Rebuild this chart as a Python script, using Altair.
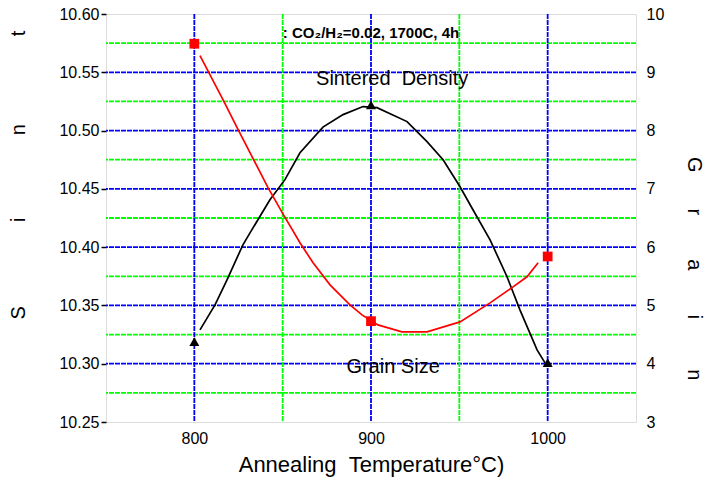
import altair as alt
import pandas as pd

# ---- data ----
temps = [800, 900, 1000]
density_pts = [10.319, 10.522, 10.301]
grain_pts = [9.49, 4.73, 5.84]

dens_curve_x = [803.2, 811.7, 818.5, 827.5, 832.6, 836.0, 842.8, 851.3, 859.8, 872.8, 884.2,
                895.5, 903.4, 920.4, 931.7, 940.8, 950.4, 957.7, 967.4, 977.0, 984.3, 994.0, 998.5]
dens_curve_y = [10.329, 10.3505, 10.372, 10.402, 10.415, 10.4235, 10.4407, 10.4579, 10.481, 10.503, 10.5137,
                10.5206, 10.5197, 10.5077, 10.4905, 10.475, 10.4518, 10.4321, 10.4063, 10.3746, 10.3462, 10.3119, 10.3007]

grain_curve_x = [803.2, 816.2, 824.2, 831.5, 841.7, 850.0, 859.8, 867.2, 876.8, 888.1, 894.9,
                 903.9, 917.5, 931.7, 950.4, 967.4, 980.4, 988.3, 994.6]
grain_curve_y = [9.287, 8.531, 8.05, 7.621, 7.02, 6.58, 6.075, 5.731, 5.353, 5.01, 4.838,
                 4.666, 4.546, 4.546, 4.718, 5.044, 5.319, 5.491, 5.731]

dens_major = [10.30, 10.35, 10.40, 10.45, 10.50, 10.55]
dens_minor = [10.275, 10.325, 10.375, 10.425, 10.475, 10.525, 10.575]
x_major = [800, 900, 1000]
x_minor = [850, 950]

left_letters = ["S", "i", "n", "t"]
left_letter_y = [10.3436, 10.4235, 10.5008, 10.5833]
right_letters = ["G", "r", "a", "i", "n"]
right_letter_y = [7.415, 6.607, 5.697, 4.804, 3.808]

NB = "\u00a0"
annotations = [":" + NB + "CO\u2082/H\u2082=0.02, 1700C, 4h",
               "Sintered" + NB + NB + "Density", "Grain Size"]
annot_x = [900, 912, 912.5]
annot_y = [10.584, 10.544, 10.297]

FONT = "Liberation Sans"
XD = [750, 1050]
YD = [10.25, 10.60]
GD = [3, 10]

xs = alt.Scale(domain=XD, nice=False, zero=False)
ys = alt.Scale(domain=YD, nice=False, zero=False)
gs = alt.Scale(domain=GD, nice=False, zero=False)

def noaxis_y(field, scale):
    return alt.Y(field, type="quantitative", scale=scale, axis=None)

x_enc = alt.X("x:Q", scale=xs,
              axis=alt.Axis(values=x_major, format="d",
                            title="Annealing" + NB + NB + "Temperature\u00b0C)",
                            grid=False, tickSize=0, labelPadding=8, domain=False,
                            labelFontSize=16, labelFont=FONT, labelColor="black",
                            titleFontSize=22, titleFont=FONT, titleFontWeight="normal",
                            titleColor="black", titlePadding=8))

DASH = [5, 1]
GW = 1.8
BLUE = "#0000ff"
GREEN = "#00ff00"
# grid lines
g_hmaj = alt.Chart(pd.DataFrame({"y": dens_major})).mark_rule(
    color=BLUE, strokeWidth=GW, strokeDash=DASH).encode(y=noaxis_y("y", ys))
g_hmin = alt.Chart(pd.DataFrame({"y": dens_minor})).mark_rule(
    color=GREEN, strokeWidth=GW, strokeDash=DASH).encode(y=noaxis_y("y", ys))
g_vmaj = alt.Chart(pd.DataFrame({"x": x_major})).mark_rule(
    color=BLUE, strokeWidth=GW, strokeDash=DASH).encode(x=x_enc)
g_vmin = alt.Chart(pd.DataFrame({"x": x_minor})).mark_rule(
    color=GREEN, strokeWidth=GW, strokeDash=DASH).encode(x=x_enc)

# density (left axis)
dens_df = pd.DataFrame({"x": dens_curve_x, "y": dens_curve_y})
dens_line = alt.Chart(dens_df).mark_line(color="black", strokeWidth=1.7).encode(
    x=x_enc,
    y=alt.Y("y:Q", scale=ys,
            axis=alt.Axis(orient="left", values=[10.25, 10.30, 10.35, 10.40, 10.45, 10.50, 10.55, 10.60],
                          format=".2f", title=None, grid=False, tickSize=5, tickColor="black",
                          tickWidth=1.5, domain=False, labelFontSize=16, labelFont=FONT,
                          labelColor="black", labelPadding=2)))
dens_pts = alt.Chart(pd.DataFrame({"x": temps, "y": density_pts})).mark_point(
    shape="triangle-up", filled=True, color="black", size=100, opacity=1).encode(
    x=x_enc, y=noaxis_y("y", ys))

# grain size (right axis)
grain_df = pd.DataFrame({"x": grain_curve_x, "g": grain_curve_y})
grain_line = alt.Chart(grain_df).mark_line(color="#ff0000", strokeWidth=1.7).encode(
    x=x_enc,
    y=alt.Y("g:Q", scale=gs,
            axis=alt.Axis(orient="right", values=list(range(3, 11)), format="d", title=None,
                          grid=False, tickSize=0, domain=False, labelFontSize=16, labelFont=FONT,
                          labelColor="black", labelPadding=10)))
grain_pts_l = alt.Chart(pd.DataFrame({"x": temps, "g": grain_pts})).mark_square(
    color="#ff0000", size=95, opacity=1).encode(x=x_enc, y=noaxis_y("g", gs))

# annotations
ann_df = pd.DataFrame({"x": annot_x, "y": annot_y, "t": annotations})
ann_title = alt.Chart(ann_df.iloc[[0]]).mark_text(
    font=FONT, fontSize=15, fontWeight="bold", color="black").encode(
    x=x_enc, y=noaxis_y("y", ys), text="t:N")
ann_labels = alt.Chart(ann_df.iloc[[1, 2]]).mark_text(
    font=FONT, fontSize=20, color="black").encode(
    x=x_enc, y=noaxis_y("y", ys), text="t:N")

# rotated text: dy moves across the text direction
left_df = pd.DataFrame({"x": [XD[0]] * len(left_letters), "y": left_letter_y, "t": left_letters})
left_txt = alt.Chart(left_df).mark_text(
    font=FONT, fontSize=20, color="black", angle=270, dy=-87).encode(
    x=x_enc, y=noaxis_y("y", ys), text="t:N")
right_df = pd.DataFrame({"x": [XD[1]] * len(right_letters), "g": right_letter_y, "t": right_letters})
right_txt = alt.Chart(right_df).mark_text(
    font=FONT, fontSize=20, color="black", angle=90, dy=-58).encode(
    x=x_enc, y=noaxis_y("g", gs), text="t:N")

chart = alt.layer(
    g_hmin, g_hmaj, g_vmin, g_vmaj,
    dens_line, grain_line, dens_pts, grain_pts_l,
    ann_title, ann_labels, left_txt, right_txt
).resolve_scale(y="independent").properties(
    width=530, height=408,
    autosize=alt.AutoSizeParams(type="none"),
    padding={"left": 106, "top": 14, "right": 72, "bottom": 69},
).configure_view(stroke="black", strokeWidth=1.6).configure(background="white")

chart.save("out.html", embed_options={"renderer": "svg", "actions": False})
